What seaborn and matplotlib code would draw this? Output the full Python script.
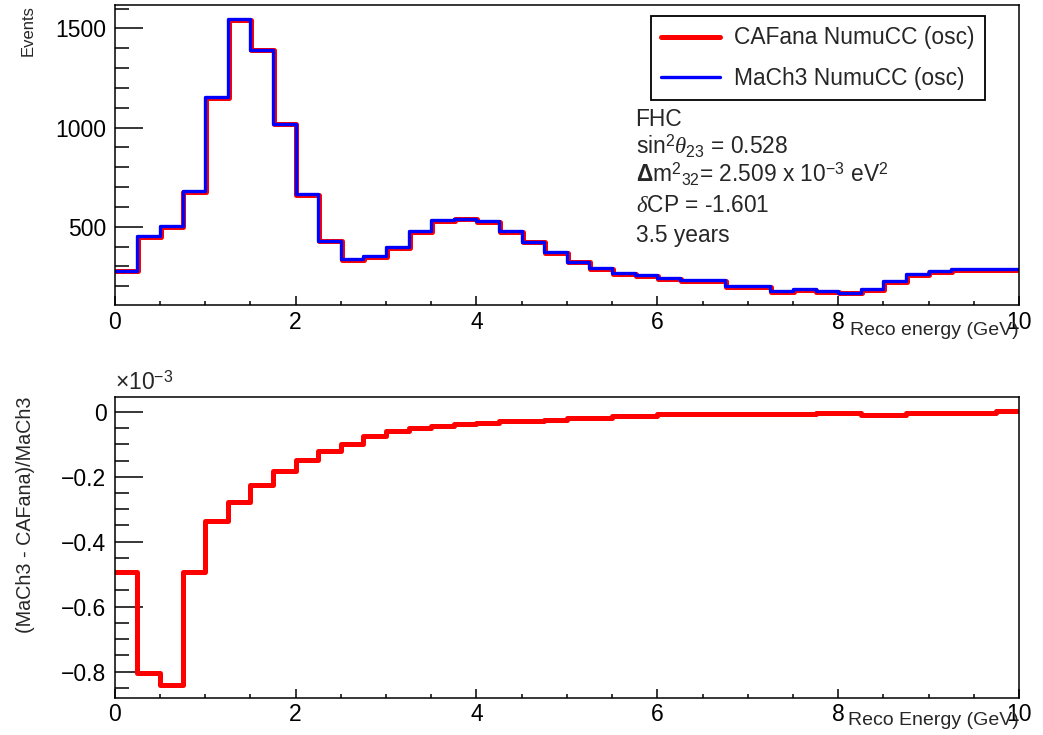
"""NumuCC FHC spectrum: CAFana vs MaCh3 and relative difference."""

import matplotlib

matplotlib.use("Agg")

import matplotlib.pyplot as plt
import matplotlib.transforms as mtransforms
import numpy as np
import pandas as pd
import seaborn as sns
from matplotlib.ticker import FuncFormatter, MultipleLocator


# 40 bins of 0.25 GeV between 0 and 10 GeV
bin_edges = np.linspace(0.0, 10.0, 41)

mach3_events = [
    279, 453, 503, 681, 1154, 1547, 1393, 1020, 665, 430,
    338, 351, 397, 477, 532, 541, 530, 480, 425, 374,
    324, 291, 268, 257, 240, 232, 232, 202, 202, 176,
    186, 176, 168, 186, 227, 261, 277, 286, 286, 286,
]
cafana_events = [
    279.1, 453.4, 503.4, 681.3, 1154.4, 1547.4, 1393.3, 1020.2, 665.1, 430.1,
    338.0, 351.0, 397.0, 477.0, 532.0, 541.0, 530.0, 480.0, 425.0, 374.0,
    324.0, 291.0, 268.0, 257.0, 240.0, 232.0, 232.0, 202.0, 202.0, 176.0,
    186.0, 176.0, 168.0, 186.0, 227.0, 261.0, 277.0, 286.0, 286.0, 286.0,
]
# (MaCh3 - CAFana)/MaCh3 in units of 1e-3
rel_diff_e3 = [
    -0.494, -0.806, -0.842, -0.494, -0.335, -0.279, -0.224, -0.183, -0.147, -0.122,
    -0.098, -0.075, -0.060, -0.049, -0.044, -0.039, -0.034, -0.029, -0.029, -0.024,
    -0.019, -0.019, -0.014, -0.014, -0.008, -0.008, -0.008, -0.008, -0.008, -0.008,
    -0.008, -0.003, -0.003, -0.010, -0.010, -0.004, -0.004, -0.004, -0.004, 0.003,
]

info_lines = [
    "FHC",
    r"sin$^{2}\theta_{23}$ = 0.528",
    r"$\mathbf{\Delta}$m$^{2}$$_{32}$= 2.509 x 10$^{-3}$ eV$^{2}$",
    r"$\delta$CP = -1.601",
    "3.5 years",
]


def steps(values):
    # repeat last value so steps-post closes the final bin
    return pd.DataFrame({"E": bin_edges, "v": list(values) + [values[-1]]})


sns.set_theme(style="white")
plt.rcParams["font.family"] = ["Liberation Sans", "DejaVu Sans"]
plt.rcParams["mathtext.fontset"] = "custom"
plt.rcParams["mathtext.rm"] = "Liberation Sans"
plt.rcParams["mathtext.it"] = "Liberation Serif:italic"
plt.rcParams["mathtext.bf"] = "Liberation Sans:bold"

RED = "#ff0000"
BLUE = "#0000ff"
TICK_FS = 16.5

fig = plt.figure(figsize=(10.43, 7.35), dpi=100)
ax_top = fig.add_axes([0.110, 0.585, 0.867, 0.408])
ax_bot = fig.add_axes([0.110, 0.051, 0.867, 0.409])

red_shift = mtransforms.offset_copy(ax_top.transData, fig=fig, x=0.65, y=-0.65, units="points")
sns.lineplot(data=steps(cafana_events), x="E", y="v", drawstyle="steps-post", estimator=None,
             color=RED, linewidth=3.6, ax=ax_top, label="CAFana NumuCC (osc)", transform=red_shift)
sns.lineplot(data=steps(mach3_events), x="E", y="v", drawstyle="steps-post", estimator=None,
             color=BLUE, linewidth=2.4, ax=ax_top, label="MaCh3 NumuCC (osc)")

sns.lineplot(data=steps(rel_diff_e3), x="E", y="v", drawstyle="steps-post", estimator=None,
             color=RED, linewidth=3.6, ax=ax_bot, legend=False)

for ax in (ax_top, ax_bot):
    ax.set_xlim(0, 10)
    ax.xaxis.set_major_locator(MultipleLocator(2))
    ax.xaxis.set_minor_locator(MultipleLocator(0.5))
    ax.tick_params(axis="both", which="both", direction="in", colors="black",
                   labelsize=TICK_FS, top=False, right=False, left=True, bottom=True)
    ax.tick_params(axis="x", which="major", length=6.5, width=1.1, pad=4)
    ax.tick_params(axis="x", which="minor", length=3.2, width=1.1)
    ax.tick_params(axis="y", which="major", length=20, width=1.1, pad=6)
    ax.tick_params(axis="y", which="minor", length=10, width=1.1)
    for spine in ax.spines.values():
        spine.set_color("black")
        spine.set_linewidth(1.1)
        spine.set_visible(True)

ax_top.set_ylim(105, 1617)
ax_top.yaxis.set_major_locator(MultipleLocator(500))
ax_top.yaxis.set_minor_locator(MultipleLocator(100))
ax_top.set_xlabel("Reco energy (GeV)", fontsize=14, ha="right")
ax_top.xaxis.set_label_coords(1.0, -0.055)
ax_top.set_ylabel("Events", fontsize=12, ha="right")
ax_top.yaxis.set_label_coords(-0.088, 1.0)

leg = ax_top.legend(loc="upper right", bbox_to_anchor=(0.962, 0.963), fontsize=16.4,
                    frameon=True, fancybox=False, edgecolor="black", framealpha=1,
                    handlelength=2.6, handletextpad=0.6, labelspacing=0.75,
                    borderpad=0.45, borderaxespad=0)
leg.get_frame().set_linewidth(1.3)

info_y = [0.597, 0.5, 0.407, 0.31, 0.21]
for line, y in zip(info_lines, info_y):
    ax_top.text(0.576, y, line, transform=ax_top.transAxes, fontsize=16.4,
                ha="left", va="baseline")

ax_bot.set_ylim(-0.88, 0.046)
ax_bot.yaxis.set_major_locator(MultipleLocator(0.2))
ax_bot.yaxis.set_minor_locator(MultipleLocator(0.05))
ax_bot.yaxis.set_major_formatter(
    FuncFormatter(lambda v, _: "0" if abs(v) < 1e-9 else f"{v:.1f}".replace("-", "\u2212")))
ax_bot.set_xlabel("Reco Energy (GeV)", fontsize=14, ha="right")
ax_bot.xaxis.set_label_coords(1.0, -0.048)
ax_bot.set_ylabel("(MaCh3 - CAFana)/MaCh3", fontsize=14.2, ha="right")
ax_bot.yaxis.set_label_coords(-0.088, 1.0)
ax_bot.text(0.0, 1.005, r"$\times$10$^{-3}$", transform=ax_bot.transAxes, fontsize=16.5,
            ha="left", va="bottom")

fig.savefig("out.png", dpi=100)
plt.close(fig)
